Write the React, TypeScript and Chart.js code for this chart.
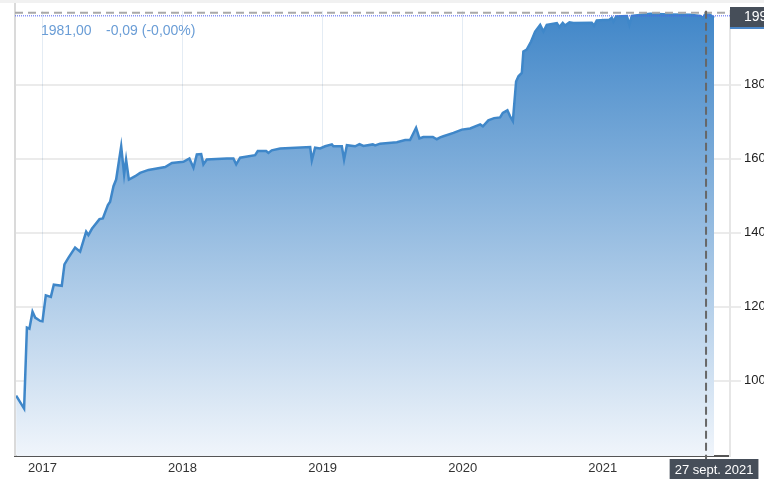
import React, { useEffect, useRef } from "react";
import { Chart, registerables } from "chart.js";

Chart.register(...registerables);

// decimal years
const dates = [
  2016.812, 2016.869, 2016.889, 2016.907, 2016.929, 2016.948, 2016.984, 2017.0,
  2017.024, 2017.06, 2017.081, 2017.138, 2017.157, 2017.186, 2017.233, 2017.269,
  2017.312, 2017.328, 2017.353, 2017.407, 2017.431, 2017.467, 2017.483, 2017.507,
  2017.526, 2017.562, 2017.583, 2017.597, 2017.617, 2017.662, 2017.697, 2017.757,
  2017.876, 2017.924, 2018.006, 2018.049, 2018.078, 2018.102, 2018.133, 2018.149,
  2018.173, 2018.316, 2018.363, 2018.383, 2018.411, 2018.518, 2018.537, 2018.597,
  2018.613, 2018.637, 2018.697, 2018.911, 2018.923, 2018.946, 2018.982, 2019.018,
  2019.066, 2019.077, 2019.137, 2019.153, 2019.173, 2019.232, 2019.263, 2019.291,
  2019.358, 2019.375, 2019.41, 2019.53, 2019.589, 2019.624, 2019.667, 2019.691,
  2019.719, 2019.787, 2019.815, 2019.839, 2019.862, 2019.934, 2019.994, 2020.053,
  2020.125, 2020.144, 2020.183, 2020.224, 2020.267, 2020.286, 2020.319, 2020.338,
  2020.358, 2020.381, 2020.398, 2020.422, 2020.433, 2020.457, 2020.488, 2020.517,
  2020.553, 2020.576, 2020.6, 2020.672, 2020.69, 2020.714, 2020.731, 2020.762,
  2020.79, 2020.921, 2020.938, 2020.957, 2021.047, 2021.064, 2021.076, 2021.095,
  2021.172, 2021.19, 2021.207, 2021.338, 2021.48, 2021.623, 2021.695, 2021.714,
  2021.737, 2021.766, 2021.794,
];

const values = [
  960, 925, 1144, 1141, 1187, 1171, 1162, 1161,
  1231, 1227, 1260, 1257, 1315, 1333, 1360, 1349,
  1403, 1394, 1411, 1437, 1439, 1475, 1484, 1526,
  1544, 1634, 1558, 1598, 1544, 1553, 1562, 1570,
  1578, 1589, 1592, 1601, 1576, 1612, 1613, 1585,
  1598, 1601, 1601, 1585, 1603, 1610, 1621, 1621,
  1616, 1623, 1628, 1632, 1596, 1630, 1628, 1634,
  1639, 1634, 1634, 1598, 1637, 1634, 1640, 1635,
  1639, 1636, 1641, 1645, 1651, 1651, 1684, 1655,
  1659, 1659, 1653, 1658, 1661, 1670, 1679, 1682,
  1693, 1688, 1704, 1710, 1712, 1724, 1731, 1715,
  1702, 1809, 1823, 1832, 1890, 1895, 1917, 1944,
  1962, 1944, 1962, 1967, 1956, 1967, 1960, 1969,
  1967, 1968, 1960, 1974, 1976, 1981, 1971, 1985,
  1986, 1962, 1986, 1992, 1990, 1989, 1986, 1980,
  1995, 1989, 1981,
];

const yearTicks = [2017, 2018, 2019, 2020, 2021];
const valueTicks = [1000, 1200, 1400, 1600, 1800];
const lastValue = 1981;
const cursorDate = 2021.737;
const cursorValue = 1995;
const headerValue = "1981,00";
const headerChange = "-0,09 (-0,00%)";
const cursorDateLabel = "27 sept. 2021";
const cursorValueLabel = "1995,00";

const SANS = "'Liberation Sans', Arial, sans-serif";

const overlay = {
  id: "overlay",
  beforeDraw(chart: any) {
    const ctx = chart.ctx;
    ctx.save();
    ctx.fillStyle = "#f1f1f1";
    ctx.fillRect(0, 0, chart.width, 3);
    ctx.restore();
  },
  afterDraw(chart: any) {
    const ctx = chart.ctx;
    const a = chart.chartArea;
    const xs = chart.scales.x;
    const ys = chart.scales.y;
    ctx.save();
    // left border
    ctx.strokeStyle = "#dadada";
    ctx.lineWidth = 2;
    ctx.beginPath();
    ctx.moveTo(a.left, 3);
    ctx.lineTo(a.left, a.bottom);
    ctx.stroke();

    // current value dotted line
    const yLast = ys.getPixelForValue(lastValue);
    ctx.strokeStyle = "#4b5ff2";
    ctx.lineWidth = 1;
    ctx.setLineDash([1, 1]);
    ctx.beginPath();
    ctx.moveTo(a.left, yLast - 2);
    ctx.lineTo(a.right, yLast - 2);
    ctx.stroke();

    // cursor horizontal dashed
    const yCur = ys.getPixelForValue(cursorValue);
    ctx.strokeStyle = "#a9a9a9";
    ctx.lineWidth = 2;
    ctx.setLineDash([8, 5]);
    ctx.beginPath();
    ctx.moveTo(a.left, yCur);
    ctx.lineTo(a.right, yCur);
    ctx.stroke();

    // cursor vertical dashed
    const xCur = xs.getPixelForValue(cursorDate);
    ctx.strokeStyle = "#676767";
    ctx.setLineDash([8, 4]);
    ctx.beginPath();
    ctx.moveTo(xCur, a.top);
    ctx.lineTo(xCur, a.bottom + 4);
    ctx.stroke();
    ctx.setLineDash([]);

    // value box top right
    ctx.fillStyle = "#4a86c8";
    ctx.fillRect(a.right, 7, chart.width - a.right, 22);
    ctx.fillStyle = "#464e59";
    ctx.fillRect(a.right, 7, chart.width - a.right, 20);
    ctx.fillStyle = "#ffffff";
    ctx.font = `14px ${SANS}`;
    ctx.textBaseline = "middle";
    ctx.textAlign = "left";
    ctx.fillText(cursorValueLabel, a.right + 14, 17);

    // date box bottom
    ctx.font = `13px ${SANS}`;
    const tw = ctx.measureText(cursorDateLabel).width;
    const bw = tw + 10;
    ctx.fillStyle = "#464e59";
    ctx.fillRect(xCur - bw / 2 + 8, a.bottom + 3, bw, 22);
    ctx.fillStyle = "#ffffff";
    ctx.textAlign = "center";
    ctx.fillText(cursorDateLabel, xCur + 8, a.bottom + 14);

    // header
    ctx.fillStyle = "#6a9dd6";
    ctx.font = `14px ${SANS}`;
    ctx.textAlign = "left";
    ctx.fillText(headerValue, 41, 31);
    ctx.fillText(headerChange, 106, 31);
    ctx.restore();
  },
};

export default function App() {
  const ref = useRef<HTMLCanvasElement | null>(null);
  useEffect(() => {
    if (!ref.current) return;
    const points = dates.map((d, i) => ({ x: d, y: values[i] }));
    const chart = new Chart(ref.current, {
      type: "line",
      data: {
        datasets: [
          {
            data: points,
            borderColor: "#3f87c9",
            borderWidth: 2.5,
            pointRadius: 0,
            tension: 0,
            fill: "start",
            backgroundColor: (c: any) => {
              const area = c.chart.chartArea;
              if (!area) return "rgba(63,135,201,0.5)";
              const g = c.chart.ctx.createLinearGradient(0, area.top, 0, area.bottom);
              g.addColorStop(0, "#4086c8");
              g.addColorStop(1, "#f0f5fb");
              return g;
            },
          },
        ],
      },
      options: {
        animation: false,
        responsive: false,
        maintainAspectRatio: false,
        layout: { padding: { left: 15, top: 9, right: 0, bottom: 0 } },
        plugins: { legend: { display: false }, tooltip: { enabled: false } },
        scales: {
          x: {
            type: "linear",
            min: 2016.804,
            max: 2021.908,
            z: 1,
            afterBuildTicks: (s: any) => {
              s.ticks = yearTicks.map((v) => ({ value: v }));
            },
            afterFit: (s: any) => {
              s.height = 23;
            },
            grid: { color: "#e4ecf4", lineWidth: 1, drawTicks: false },
            border: { display: true, color: "#555555", width: 2 },
            ticks: {
              padding: 5,
              maxRotation: 0,
              autoSkip: false,
              color: "#333333",
              font: { family: SANS, size: 13 },
              callback: (v: any) => String(v),
            },
          },
          y: {
            type: "linear",
            position: "right",
            min: 797,
            max: 2000,
            z: 1,
            afterBuildTicks: (s: any) => {
              s.ticks = valueTicks.map((v) => ({ value: v }));
            },
            afterFit: (s: any) => {
              s.width = 34;
            },
            grid: { color: "rgba(0,0,0,0.08)", lineWidth: 2, tickLength: 11, drawTicks: true },
            border: { display: true, color: "#e6e6e6", width: 2 },
            ticks: {
              padding: 3,
              color: "#222222",
              font: { family: SANS, size: 13 },
              callback: (v: any) => String(v),
            },
          },
        },
      },
      plugins: [overlay],
    });
    return () => chart.destroy();
  }, []);
  return (
    <div style={{ position: "fixed", left: 0, top: 0, width: 764, height: 479, background: "#fff" }}>
      <canvas ref={ref} width={764} height={479} style={{ width: 764, height: 479, display: "block" }} />
    </div>
  );
}
